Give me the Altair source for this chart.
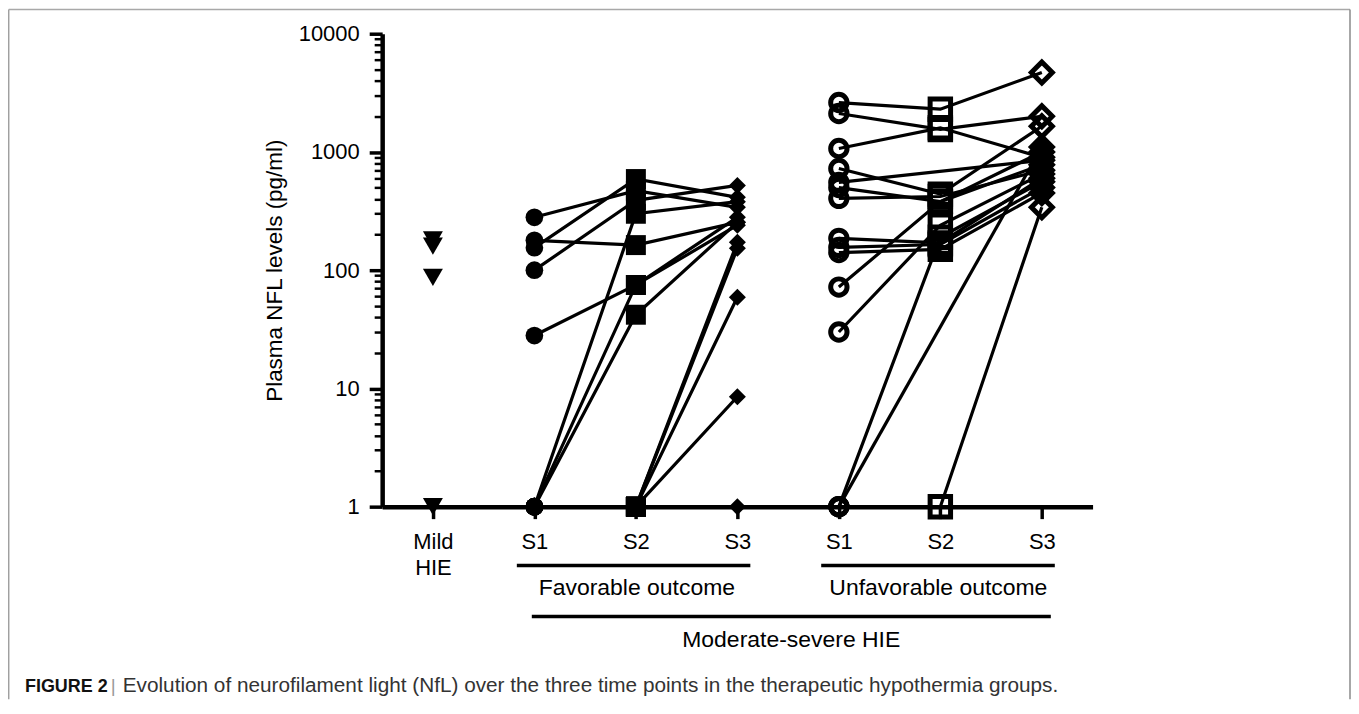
import altair as alt
import pandas as pd

# ---------------- data ----------------
positions = ["Mild", "F1", "F2", "F3", "U1", "U2", "U3"]

mild_hie = [180, 160, 87, 1]

fav_s1 = [280, 179, 155, 100, 28, 1, 1, 1, 1, 1, 1, 1, 1]
fav_s2 = [470, 163, 590, 390, 75, 300, 75, 42, 1, 1, 1, 1, 1]
fav_s3 = [340, 254, 413, 521, 240, 380, 280, 254, 172, 153, 59, 8.5, 1]

unf_s1 = [2617, 2113, 1070, 725, 553, 500, 405, 186, 156, 141, 72, 30, 1, 1, 1]
unf_s2 = [2300, 1550, 1600, 440, None, 380, 420, 170, 165, 150, 380, 240, 190, None, 1]
unf_s3 = [4700, 2000, 900, 1650, 850, 1000, 700, 600, 500, 450, 780, 650, 560, 1100, 340]

y_major = [1, 10, 100, 1000, 10000]
y_ticks = [m * d for d in [1, 10, 100, 1000] for m in range(1, 10)] + [10000]

group_labels = ["Favorable outcome", "Unfavorable outcome", "Moderate-severe HIE"]
group_start = ["F1", "U1", "F1"]
group_end = ["F3", "U3", "U3"]
group_center = ["F2", "U2", "F3"]

caption_bold = "FIGURE 2"
caption_sep = "|"
caption_text = ("Evolution of neurofilament light (NfL) over the three time points "
                "in the therapeutic hypothermia groups.")

y_title = "Plasma NFL levels (pg/ml)"

# ---------------- table ----------------
rows = []
for i, v in enumerate(mild_hie):
    rows.append({"patient": f"m{i}", "pos": "Mild", "step": 0, "value": v})
for i, (a, b, c) in enumerate(zip(fav_s1, fav_s2, fav_s3)):
    for step, (p, v) in enumerate(zip(["F1", "F2", "F3"], [a, b, c]), start=1):
        if v is not None:
            rows.append({"patient": f"f{i}", "pos": p, "step": step, "value": v})
for i, (a, b, c) in enumerate(zip(unf_s1, unf_s2, unf_s3)):
    for step, (p, v) in enumerate(zip(["U1", "U2", "U3"], [a, b, c]), start=1):
        if v is not None:
            rows.append({"patient": f"u{i}", "pos": p, "step": step, "value": v})
df = pd.DataFrame(rows)

FONT = "Liberation Sans"
FS = 22
W, H = 712, 474

major_test = "indexof([1, 10, 100, 1000, 10000], datum.value) >= 0"

x_scale = alt.Scale(domain=positions, type="point", padding=0.5)
x_axis = alt.Axis(
    title=None,
    labelExpr="datum.value == 'Mild' ? ['Mild', 'HIE'] : 'S' + substring(datum.value, 1)",
    labelAngle=0, labelAlign="center", labelBaseline="top",
    labelFont=FONT, labelFontSize=FS, labelColor="black", labelLineHeight=26,
    labelPadding=13, tickSize=12, tickWidth=3.5, tickColor="black",
    domainColor="black", domainWidth=4.5, grid=False,
)
y_scale = alt.Scale(type="log", domain=[1, 10000], nice=False)
y_axis = alt.Axis(
    title=y_title, titleFont=FONT, titleFontSize=22.5, titleFontWeight="normal",
    titleColor="black", titleX=-108, titleY=H / 2, titleBaseline="middle",
    titleAngle=-90, titleAlign="center",
    values=y_ticks,
    labelExpr=major_test + " ? format(datum.value, 'd') : ''",
    labelFont=FONT, labelFontSize=FS, labelColor="black", labelPadding=10,
    labelOverlap=False, labelFlush=False,
    tickSize={"condition": {"test": major_test, "value": 13}, "value": 8},
    tickWidth={"condition": {"test": major_test, "value": 3.5}, "value": 2.5},
    tickColor="black", domainColor="black", domainWidth=4.5, grid=False,
)

X = alt.X("pos:N", scale=x_scale, axis=x_axis)
Y = alt.Y("value:Q", scale=y_scale, axis=y_axis)

base = alt.Chart(df).encode(x=X, y=Y)

lines = base.mark_line(color="black", strokeWidth=3.2).encode(
    detail="patient:N", order="step:Q"
)

sym = {
    "Mild": ("triangle-down", 400, True),
    "F1": ("circle", 314, True),
    "F2": ("square", 400, True),
    "F3": ("diamond", 290, True),
    "U1": ("circle", 269, False),
    "U2": ("square", 420, False),
    "U3": ("diamond", 440, False),
}
point_layers = []
for p in positions:
    shape, size, filled = sym[p]
    if filled:
        mk = dict(shape=shape, size=size, filled=True, color="black", opacity=1, strokeWidth=0)
    else:
        mk = dict(shape=shape, size=size, filled=False, color="black", opacity=1,
                  strokeWidth=5)
    point_layers.append(
        base.transform_filter(alt.datum.pos == p).mark_point(**mk)
    )

# ---- group annotation rules and labels ----
rule_y = [533, 533, 584]
rule_off = [(-17.6, 13), (-17.7, 13), (-2.6, 9)]
text_y = [563, 563, 615]
text_off = [1, -2, 54]

ann = []
for i in range(3):
    gdf = pd.DataFrame({"pos": [group_start[i]], "pos2": [group_end[i]]})
    ann.append(
        alt.Chart(gdf).mark_rule(color="black", strokeWidth=3.5,
                                 xOffset=rule_off[i][0], x2Offset=rule_off[i][1])
        .encode(x=X, x2="pos2:N", y=alt.value(rule_y[i]))
    )
    tdf = pd.DataFrame({"pos": [group_center[i]], "label": [group_labels[i]]})
    ann.append(
        alt.Chart(tdf).mark_text(font=FONT, fontSize=23, color="black",
                                 align="center", baseline="alphabetic", dx=text_off[i])
        .encode(x=X, y=alt.value(text_y[i]), text="label:N")
    )

# ---- caption ----
cap = []
for txt, xv, weight, col, fs in [
    (caption_bold, -358, "bold", "#111111", 18),
    (caption_sep, -272, "normal", "#9a9a9a", 19),
    (caption_text, -260, "normal", "#333333", 20.8),
]:
    cdf = pd.DataFrame({"t": [txt]})
    cap.append(
        alt.Chart(cdf).mark_text(font=FONT, fontSize=fs, fontWeight=weight, color=col,
                                 align="left", baseline="alphabetic")
        .encode(x=alt.value(xv), y=alt.value(660), text="t:N")
    )

# ---- figure frame ----
fdf = pd.DataFrame({"k": [0]})
frame = [
    alt.Chart(fdf).mark_rule(color="#a8a8a8", strokeWidth=1.5)
    .encode(x=alt.value(-374.3), x2=alt.value(970), y=alt.value(-24.3)),
    alt.Chart(fdf).mark_rule(color="#a0a0a0", strokeWidth=1.5)
    .encode(x=alt.value(-374.3), y=alt.value(-24.3), y2=alt.value(667)),
    alt.Chart(fdf).mark_rule(color="#8a8a8a", strokeWidth=1.5)
    .encode(x=alt.value(970), y=alt.value(-24.3), y2=alt.value(667)),
]

chart = alt.layer(lines, *point_layers, *ann, *cap, *frame).properties(
    width=W, height=H,
    autosize=alt.AutoSizeParams(type="none"),
    padding={"left": 375, "top": 25, "right": 259, "bottom": 193},
).configure_view(stroke=None)

chart.save("out.html", embed_options={"renderer": "svg", "actions": False})
